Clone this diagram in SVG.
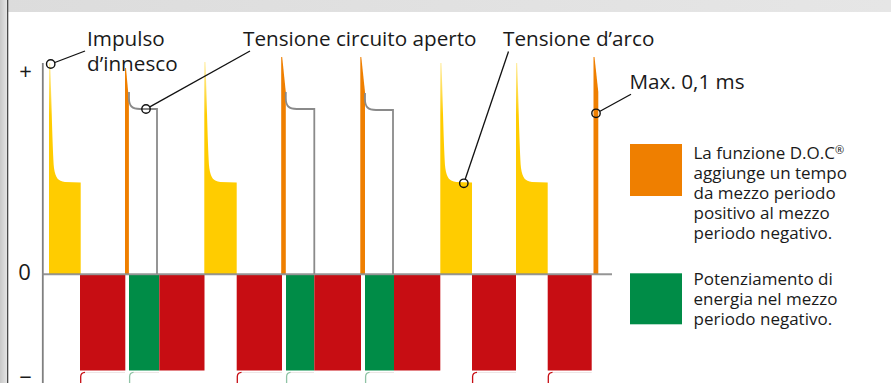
<svg xmlns="http://www.w3.org/2000/svg" width="891" height="383" viewBox="0 0 891 383">
<defs>
<linearGradient id="gLeft" x1="0" y1="0" x2="1" y2="0"><stop offset="0" stop-color="#c8c8c8"/><stop offset="1" stop-color="#e4e4e4"/></linearGradient>
<linearGradient id="gTop" x1="0" y1="0" x2="1" y2="0"><stop offset="0" stop-color="#dcdcdc"/><stop offset="1" stop-color="#e6e6e6"/></linearGradient>
<linearGradient id="gYel" gradientUnits="userSpaceOnUse" x1="0" y1="60" x2="0" y2="115"><stop offset="0" stop-color="#fff0b0"/><stop offset="1" stop-color="#ffcc00"/></linearGradient>
<style>
.t{font-family:"Open Sans","Noto Sans","Liberation Sans",sans-serif;fill:#1a1a1a}
.lab{font-size:20.7px}
.leg{font-size:17px}
.ax{font-size:22px}
.sup{font-size:11px}
.yel{fill:url(#gYel)}
.org{fill:#ef7f00}
.red{fill:#c70d13}
.grn{fill:#008c47}
.gl{fill:none;stroke:#8a8a8a;stroke-width:1.8}
.ld{fill:none;stroke:#111;stroke-width:1.3}
.dot{fill:none;stroke:#111;stroke-width:1.4}
.hr{fill:none;stroke:#c70d13;stroke-width:1.3}
.hg{fill:none;stroke:#8fc3a5;stroke-width:1.3}
.hf{fill:none;stroke:#eadede;stroke-width:0.8}
</style>
</defs>
<rect x="0" y="0" width="891" height="383" fill="#ffffff"/>
<g id="frame">
<rect x="0" y="0" width="891" height="12" fill="url(#gTop)"/>
<rect x="0" y="0" width="7" height="383" fill="url(#gLeft)"/>
<rect x="7" y="0" width="1.3" height="383" fill="#4a4a4a"/>
</g>
<g id="waveform">
<g id="positive">
<path class="yel" d="M49,274 V63 H50.2 C51.5,100 52.5,150 54,168 C55.5,178 58,181 65,182 L80.7,182.5 V274 Z"/>
<path class="yel" d="M204.3,274 V62 H205.5 C206.8,100 207.8,150 209.3,168 C210.8,178 213.3,181 220.3,182 L236.7,182.5 V274 Z"/>
<path class="yel" d="M440.3,274 V63 H441.5 C442.8,100 443.8,150 445.3,168 C446.8,178 449.3,181 456.3,182 L472,182.5 V274 Z"/>
<path class="yel" d="M516,274 V63 H517.2 C518.5,100 519.5,150 521,168 C522.5,178 525,181 532,182 L547.7,182.5 V274 Z"/>
<path class="org" d="M125,274 V68 H126 L128.9,100 V274 Z"/>
<path class="org" d="M281.2,274 V57 H282.2 L285.8,92 V274 Z"/>
<path class="org" d="M360.3,274 V57 H361.3 L365,92 V274 Z"/>
<path class="org" d="M593.5,274 V57 H594.5 L598.3,92 V274 Z"/>
<path class="gl" d="M129,92 V98 C129,106 132,109 140,109 H157 V274"/>
<path class="gl" d="M285.8,92 V98 C285.8,106 288.8,109 296.8,109 H314.3 V274"/>
<path class="gl" d="M365,93 V99 C365,107 368,110 376,110 H393 V274"/>
</g>
<g id="negative">
<rect class="red" x="80" y="275" width="45.3" height="95.5"/>
<rect class="grn" x="129" y="275" width="30.3" height="95.5"/>
<rect class="red" x="159.3" y="275" width="45.2" height="95.5"/>
<rect class="red" x="236.7" y="275" width="45.3" height="95.5"/>
<rect class="grn" x="286" y="275" width="28.3" height="95.5"/>
<rect class="red" x="314.3" y="275" width="46.7" height="95.5"/>
<rect class="grn" x="365" y="275" width="29" height="95.5"/>
<rect class="red" x="394" y="275" width="46.3" height="95.5"/>
<rect class="red" x="472" y="275" width="44" height="95.5"/>
<rect class="red" x="547.7" y="275" width="44" height="95.5"/>
<path class="hf" d="M84,372.5 H125 M133,372.5 H159 M240.5,372.5 H282 M290,372.5 H314 M369,372.5 H394 M476,372.5 H516 M551.5,372.5 H591.7"/>
<path class="hr" d="M80.7,383 V376.5 Q80.9,372.6 85,372.4"/>
<path class="hg" d="M129.6,383 V376.5 Q129.8,372.6 133.5,372.4"/>
<path class="hr" d="M237.3,383 V376.5 Q237.5,372.6 241.5,372.4"/>
<path class="hg" d="M286.6,383 V376.5 Q286.8,372.6 290.5,372.4"/>
<path class="hg" d="M365.6,383 V376.5 Q365.8,372.6 369.5,372.4"/>
<path class="hr" d="M472.6,383 V376.5 Q472.8,372.6 477,372.4"/>
<path class="hr" d="M548.3,383 V376.5 Q548.5,372.6 552.5,372.4"/>
</g>
</g>
<g id="axes">
<line x1="42.8" y1="63" x2="42.8" y2="383" stroke="#808080" stroke-width="1.8"/>
<line x1="42" y1="274.3" x2="612" y2="274.3" stroke="#8a8a8a" stroke-width="2" stroke-opacity="0.9"/>
<text class="t ax" x="25.5" y="78.5" text-anchor="middle">+</text>
<text class="t ax" x="24.5" y="280" text-anchor="middle">0</text>
<text class="t ax" x="25.5" y="385" text-anchor="middle">−</text>
</g>
<g id="connectors">
<line class="ld" x1="54.8" y1="62.5" x2="85" y2="51"/>
<line class="ld" x1="149.8" y1="106.9" x2="250" y2="51"/>
<line class="ld" x1="465.2" y1="179.3" x2="508.5" y2="51.5"/>
<line class="ld" x1="600" y1="111.3" x2="631" y2="94.3"/>
<circle class="dot" cx="50.7" cy="64" r="4.2"/>
<circle class="dot" cx="146" cy="109" r="4.2"/>
<circle class="dot" cx="463.8" cy="183.3" r="4.2"/>
<circle class="dot" cx="596" cy="113.3" r="4.2"/>
</g>
<g id="label-impulso">
<text class="t lab" x="87" y="46">Impulso</text>
<text class="t lab" x="87" y="71">d’innesco</text>
</g>
<g id="label-circuito">
<text class="t lab" x="243" y="46">Tensione circuito aperto</text>
</g>
<g id="label-arco">
<text class="t lab" x="503" y="46">Tensione d’arco</text>
</g>
<g id="label-max">
<text class="t lab" x="629.5" y="88.5">Max. 0,1 ms</text>
</g>
<g id="legend-doc">
<rect x="630" y="144" width="52" height="52" class="org"/>
<text class="t leg" x="693.5" y="158.5">La funzione D.O.C<tspan class="sup" dy="-5">®</tspan></text>
<text class="t leg" x="693.5" y="178.5">aggiunge un tempo</text>
<text class="t leg" x="693.5" y="198.5">da mezzo periodo</text>
<text class="t leg" x="693.5" y="218.5">positivo al mezzo</text>
<text class="t leg" x="693.5" y="239">periodo negativo.</text>
</g>
<g id="legend-energia">
<rect x="630" y="273.3" width="52" height="51" class="grn"/>
<text class="t leg" x="693.5" y="285">Potenziamento di</text>
<text class="t leg" x="693.5" y="305">energia nel mezzo</text>
<text class="t leg" x="693.5" y="325">periodo negativo.</text>
</g>
</svg>
